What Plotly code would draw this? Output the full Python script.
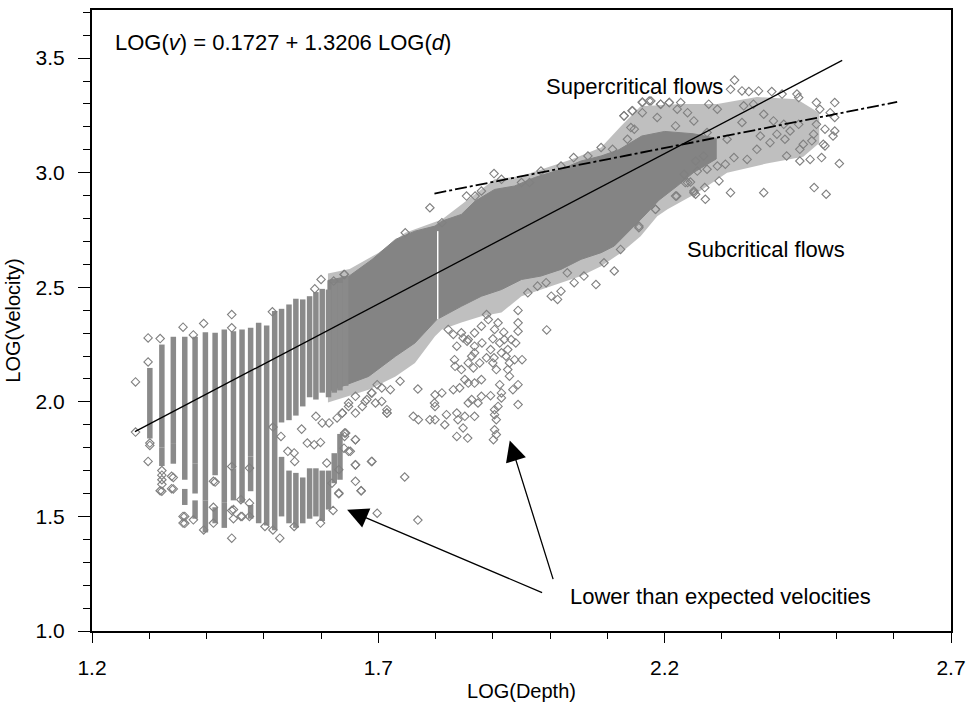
import plotly.graph_objects as go

# ---------------- data ----------------
x_tick_vals = [1.2, 1.7, 2.2, 2.7]
x_tick_text = ["1.2", "1.7", "2.2", "2.7"]
y_tick_vals = [1.0, 1.5, 2.0, 2.5, 3.0, 3.5]
y_tick_text = ["1.0", "1.5", "2.0", "2.5", "3.0", "3.5"]

# vertical stripes of points (discrete depths) : x, bottom, top
col_x = [1.301, 1.322, 1.342, 1.362, 1.380, 1.398, 1.415, 1.431, 1.447, 1.462, 1.477, 1.491, 1.505,
         1.519, 1.531, 1.544, 1.556, 1.568, 1.580, 1.591, 1.602, 1.613, 1.623, 1.633, 1.643]
col_bot = [1.84, 1.80, 1.82, 1.66, 1.73, 1.57, 1.68, 1.56, 1.71, 1.69, 1.76, 1.47, 1.46,
           1.44, 1.91, 1.92, 1.94, 1.98, 2.02, 2.01, 2.04, 2.02, 2.04, 2.05, 2.07]
col_top = [2.148, 2.250, 2.284, 2.284, 2.284, 2.304, 2.301, 2.316, 2.308, 2.316, 2.323, 2.345, 2.333,
           2.396, 2.406, 2.425, 2.450, 2.447, 2.461, 2.479, 2.493, 2.490, 2.519, 2.519, 2.549]

# lower pieces of the stripes
low_x = [1.322, 1.342, 1.362, 1.380, 1.380, 1.398, 1.415, 1.431, 1.447, 1.462, 1.477, 1.477,
         1.531, 1.544, 1.556, 1.568, 1.580, 1.591, 1.602, 1.613, 1.623, 1.633]
low_bot = [1.72, 1.73, 1.55, 1.60, 1.49, 1.43, 1.47, 1.45, 1.57, 1.56, 1.61, 1.49,
           1.50, 1.47, 1.45, 1.47, 1.49, 1.50, 1.48, 1.53, 1.645, 1.66]
low_top = [1.80, 1.82, 1.62, 1.73, 1.57, 1.57, 1.54, 1.56, 1.71, 1.69, 1.76, 1.55,
           1.76, 1.70, 1.69, 1.67, 1.71, 1.71, 1.70, 1.70, 1.776, 1.86]

# dense core of the cloud (outline: upper edge left->right, lower edge right->left)
core_x = [1.612, 1.6485, 1.689, 1.730, 1.764, 1.799, 1.811, 1.845, 1.869, 1.903, 1.938, 1.973,
          2.019, 2.054, 2.089, 2.12, 2.16, 2.20, 2.25, 2.29,
          2.29, 2.25, 2.222, 2.19, 2.164, 2.135, 2.112, 2.089, 2.054, 2.019, 1.984, 1.950,
          1.915, 1.880, 1.845, 1.802, 1.764, 1.730, 1.683, 1.612]
core_y = [2.53, 2.548, 2.621, 2.709, 2.745, 2.767, 2.789, 2.818, 2.876, 2.927, 2.942, 2.979,
          3.015, 3.051, 3.073, 3.10, 3.16, 3.18, 3.17, 3.15,
          3.06, 3.00, 2.942, 2.88, 2.811, 2.738, 2.680, 2.651, 2.622, 2.578, 2.549, 2.534,
          2.490, 2.461, 2.417, 2.359, 2.257, 2.199, 2.111, 2.045]

# fuzzy fringe of overlapping points round the core
fringe_x = [1.612, 1.65, 1.70, 1.747, 1.811, 1.857, 1.903, 1.950, 1.984, 2.037, 2.089, 2.124, 2.158,
            2.228, 2.292, 2.361, 2.431, 2.47,
            2.47, 2.442, 2.378, 2.309, 2.257, 2.205, 2.187, 2.158, 2.124, 2.089, 2.054, 2.019, 1.984,
            1.950, 1.915, 1.880, 1.845, 1.811, 1.799, 1.764, 1.730, 1.683, 1.612]
fringe_y = [2.56, 2.58, 2.65, 2.738, 2.796, 2.884, 2.971, 2.986, 3.015, 3.058, 3.11, 3.204, 3.29,
            3.30, 3.30, 3.33, 3.32, 3.26,
            3.13, 3.07, 3.04, 3.00, 2.913, 2.84, 2.81, 2.723, 2.651, 2.592, 2.549, 2.52, 2.49,
            2.461, 2.39, 2.374, 2.346, 2.316, 2.286, 2.17, 2.111, 2.053, 1.997]

# white gap inside the cloud
gap_x = [1.8037, 1.8037]
gap_y = [2.36, 2.745]

# individual scattered points
pts_x = [1.276, 1.276, 1.298, 1.298, 1.319, 1.359, 1.395, 1.444, 1.444, 1.377, 1.600, 1.641, 1.622, 1.589, 1.515,
         1.301, 1.301, 1.298,
         1.660, 1.677, 1.688, 1.695, 1.706, 1.715, 1.648, 1.637, 1.628, 1.614, 1.602, 1.591, 1.576, 1.588,
         1.599, 1.641, 1.641, 1.660,
         1.444, 1.528, 1.688, 1.746, 1.698, 1.670, 1.631, 1.621, 1.660, 1.660, 1.651, 1.610, 1.553, 1.566,
         1.554, 1.542, 1.530, 1.516, 1.475, 1.475, 1.460, 1.444, 1.444, 1.412, 1.412, 1.395, 1.377, 1.359,
         1.359, 1.339, 1.319, 1.339, 1.412, 1.460, 1.475, 1.599, 1.553, 1.516, 1.502, 1.769,
         1.322, 1.322, 1.322, 1.322, 1.322, 1.342, 1.342, 1.362, 1.362, 1.415, 1.447, 1.447, 1.462,
         1.994, 1.944, 1.944, 1.944, 1.940, 1.951, 1.938, 1.944, 1.944, 1.935, 1.929, 1.926, 1.929, 1.923,
         1.926, 1.932, 1.920, 1.919, 1.909, 1.903, 1.900, 1.896, 1.912, 1.915, 1.902, 1.906, 1.912, 1.915,
         1.909, 1.903, 1.906, 1.903, 1.906, 1.901, 1.892, 1.889, 1.880, 1.868, 1.857, 1.845, 1.848, 1.837,
         1.833, 1.834, 1.845, 1.857, 1.863, 1.868, 1.877, 1.880, 1.868, 1.857, 1.851, 1.842, 1.831, 1.880,
         1.874, 1.863, 1.857, 1.868, 1.851, 1.837, 1.839, 1.819, 1.816, 1.799, 1.790, 1.770, 1.761, 1.799,
         1.811, 1.798, 1.799, 1.769, 1.738, 1.721, 1.706, 1.698, 1.689, 1.680, 1.672, 1.660, 1.648, 1.637,
         1.715, 1.715, 1.848, 1.837, 1.856, 1.903, 1.896, 1.915, 1.822, 1.831, 1.855, 1.868, 1.866, 1.881,
         1.889, 1.900,
         1.643, 1.660, 1.660, 1.689, 1.670, 1.631, 1.648, 1.640, 1.619, 1.631,
         2.019, 2.042, 2.059, 2.080, 2.013, 2.002, 2.030, 2.112, 2.094, 2.155, 2.123, 1.978, 1.961, 1.993,
         2.322, 2.315, 2.335, 2.347, 2.364, 2.387, 2.405, 2.431, 2.434, 2.465, 2.497, 2.471, 2.489, 2.497,
         2.465, 2.480, 2.497, 2.494, 2.477, 2.480, 2.457, 2.442, 2.436, 2.413, 2.436, 2.454, 2.474, 2.505,
         2.461, 2.482, 2.373, 2.315, 2.295, 2.271, 2.270, 2.254, 2.251, 2.240, 2.245, 2.221, 2.184, 2.155,
         2.361, 2.344, 2.321, 2.306, 2.292, 2.274, 2.257, 2.234, 2.254, 2.268, 2.410, 2.396, 2.419, 2.390,
         2.373, 2.355, 2.338, 2.292, 2.277, 2.251, 2.240, 2.222, 2.208, 2.193, 2.176, 2.161, 2.144, 2.129,
         2.141, 2.161, 2.187, 2.219, 2.274, 2.309, 2.335, 2.367, 2.384, 2.408, 2.434, 2.460,
         1.790, 1.811, 1.854, 1.869, 1.880, 1.902, 1.915, 1.950, 1.964, 1.984, 2.019, 2.041, 2.066, 2.089,
         2.109, 2.129, 2.143, 2.161, 2.173, 2.193, 2.208, 2.228, 2.147, 2.135, 2.219, 2.184, 2.236, 2.251,
         1.640, 1.747]
pts_y = [2.087, 1.868, 2.279, 2.174, 2.276, 2.326, 2.342, 2.381, 2.323, 2.292, 2.534, 2.556, 2.527, 2.493, 2.393,
         1.82, 1.81, 1.740,
         2.024, 2.002, 2.039, 1.995, 2.002, 1.951, 1.980, 1.951, 1.930, 1.908, 1.908, 1.937, 1.820, 1.813,
         1.823, 1.864, 1.849, 1.835,
         1.405, 1.405, 1.740, 1.672, 1.514, 1.612, 1.599, 1.526, 1.725, 1.653, 1.784, 1.733, 1.777, 1.881,
         1.740, 1.784, 1.849, 1.890, 1.711, 1.500, 1.500, 1.526, 1.718, 1.540, 1.471, 1.441, 1.485, 1.500,
         1.471, 1.621, 1.612, 1.675, 1.653, 1.573, 1.558, 1.471, 1.456, 1.441, 1.456, 1.484,
         1.70, 1.68, 1.66, 1.64, 1.61, 1.67, 1.62, 1.50, 1.47, 1.65, 1.53, 1.49, 1.50,
         2.314, 2.399, 2.345, 2.308, 2.257, 2.184, 2.184, 2.075, 1.988, 2.053, 2.112, 2.141, 2.170, 2.199,
         2.228, 2.272, 2.272, 2.304, 2.345, 2.316, 2.275, 2.228, 2.257, 2.214, 2.192, 2.141, 2.075, 2.039,
         1.980, 1.966, 1.922, 1.878, 1.857, 1.835, 2.359, 2.381, 2.330, 2.301, 2.272, 2.301, 2.279, 2.243,
         2.184, 2.155, 2.141, 2.170, 2.199, 2.214, 2.170, 2.097, 2.082, 2.082, 2.097, 2.061, 2.053, 2.024,
         1.995, 2.010, 1.995, 1.937, 1.937, 1.951, 1.922, 1.944, 1.900, 1.922, 1.922, 1.922, 1.937, 2.031,
         2.039, 1.995, 1.980, 2.056, 2.090, 2.053, 2.061, 2.075, 2.039, 2.010, 1.980, 1.951, 1.995, 1.951,
         1.966, 1.951, 1.886, 1.849, 1.842, 1.944, 2.027, 2.017, 2.316, 2.294, 2.265, 2.243, 2.148, 2.257,
         2.192, 2.170,
         1.864, 1.835, 1.725, 1.740, 1.612, 1.602, 1.784, 1.798, 1.645, 1.704,
         2.483, 2.520, 2.549, 2.512, 2.447, 2.461, 2.563, 2.571, 2.607, 2.760, 2.665, 2.505, 2.476, 2.520,
         3.404, 3.364, 3.357, 3.354, 3.357, 3.354, 3.343, 3.343, 3.328, 3.306, 3.306, 3.277, 3.262, 3.241,
         3.211, 3.190, 3.182, 3.160, 3.124, 3.117, 3.139, 3.124, 3.102, 3.073, 3.051, 3.058, 3.066, 3.040,
         2.935, 2.906, 2.913, 2.913, 2.964, 2.884, 2.935, 2.906, 2.920, 2.957, 2.959, 2.898, 2.840, 2.767,
         3.102, 3.058, 3.066, 3.037, 3.029, 3.015, 3.007, 2.993, 3.051, 3.073, 3.146, 3.168, 3.182, 3.226,
         3.255, 3.299, 3.292, 3.277, 3.299, 3.226, 3.262, 3.277, 3.306, 3.299, 3.313, 3.306, 3.270, 3.248,
         3.197, 3.262, 3.241, 3.204, 3.175, 3.146, 3.219, 3.160, 3.131, 3.211, 3.211, 3.168,
         2.847, 2.782, 2.898, 2.898, 2.920, 2.996, 2.971, 2.957, 2.957, 3.007, 3.029, 3.066, 3.073, 3.110,
         3.102, 3.248, 3.270, 3.309, 3.313, 3.299, 3.306, 3.306, 3.190, 3.146, 2.898, 2.840, 2.957, 2.913,
         2.556, 2.738]

# fitted line and the critical-flow boundary
fit_x = [1.275, 2.51]
fit_y = [1.87, 3.49]
crit_x = [1.798, 2.606]
crit_y = [2.909, 3.309]

# ---------------- figure ----------------
GRAY = "rgb(132,132,132)"
FONT = "Liberation Sans, Arial, Helvetica, sans-serif"

fig = go.Figure()

# fringe of the cloud
fig.add_trace(go.Scatter(x=fringe_x + [fringe_x[0]], y=fringe_y + [fringe_y[0]], mode="lines",
                         fill="toself", fillcolor="rgba(128,128,128,0.5)",
                         line=dict(width=0), hoverinfo="skip", showlegend=False))
# dense core
fig.add_trace(go.Scatter(x=core_x + [core_x[0]], y=core_y + [core_y[0]], mode="lines",
                         fill="toself", fillcolor=GRAY,
                         line=dict(width=1, color=GRAY), hoverinfo="skip", showlegend=False))

# stripes
sx, sy = [], []
for xv, lo, hi in zip(col_x, col_bot, col_top):
    sx += [xv, xv, None]
    sy += [lo, hi, None]
for xv, lo, hi in zip(low_x, low_bot, low_top):
    sx += [xv, xv, None]
    sy += [lo, hi, None]
fig.add_trace(go.Scatter(x=sx, y=sy, mode="lines", line=dict(color="rgb(138,138,138)", width=5.5),
                         hoverinfo="skip", showlegend=False))

# white gap
fig.add_trace(go.Scatter(x=gap_x, y=gap_y, mode="lines", line=dict(color="white", width=1.5),
                         hoverinfo="skip", showlegend=False))

# scattered points
fig.add_trace(go.Scatter(x=pts_x, y=pts_y, mode="markers",
                         marker=dict(symbol="diamond-open", size=6.5, color="rgb(128,128,128)",
                                     line=dict(width=1.1, color="rgb(128,128,128)")),
                         hoverinfo="skip", showlegend=False))

# lines
fig.add_trace(go.Scatter(x=fit_x, y=fit_y, mode="lines", line=dict(color="black", width=1.3),
                         showlegend=False))
fig.add_trace(go.Scatter(x=crit_x, y=crit_y, mode="lines",
                         line=dict(color="black", width=1.8, dash="12px,3px,3px,3px"),
                         showlegend=False))

ann_font = dict(family=FONT, size=22, color="black")
annotations = [
    dict(x=1.2365, y=3.570, xref="x", yref="y", text="LOG(<i>v</i>) = 0.1727 + 1.3206 LOG(<i>d</i>)",
         showarrow=False, xanchor="left", yanchor="middle", font=ann_font),
    dict(x=2.147, y=3.378, xref="x", yref="y", text="Supercritical flows",
         showarrow=False, xanchor="center", yanchor="middle", font=ann_font),
    dict(x=2.3768, y=2.665, xref="x", yref="y", text="Subcritical flows",
         showarrow=False, xanchor="center", yanchor="middle", font=ann_font),
    dict(x=2.031, y=1.152, xref="x", yref="y", text="Lower than expected velocities",
         showarrow=False, xanchor="left", yanchor="middle", font=ann_font),
    dict(x=1.6455, y=1.5288, xref="x", yref="y", ax=1.9886, ay=1.1648, axref="x", ayref="y",
         text="", showarrow=True, arrowhead=2, arrowsize=3.2, arrowwidth=1.3, arrowcolor="black"),
    dict(x=1.9295, y=1.8317, xref="x", yref="y", ax=2.006, ay=1.2198, axref="x", ayref="y",
         text="", showarrow=True, arrowhead=2, arrowsize=3.2, arrowwidth=1.3, arrowcolor="black"),
]

fig.update_layout(
    width=974, height=711,
    margin=dict(l=92, r=18, t=8, b=80),
    paper_bgcolor="white", plot_bgcolor="white",
    font=dict(family=FONT, color="black"),
    annotations=annotations,
    showlegend=False,
)
fig.update_xaxes(
    range=[1.2, 2.7], tickvals=x_tick_vals, ticktext=x_tick_text,
    showgrid=False, zeroline=False, showline=True, mirror=True, linecolor="black", linewidth=2,
    ticks="outside", ticklen=10, tickwidth=1, tickcolor="black", ticklabelstandoff=7,
    minor=dict(dtick=0.1, ticks="outside", ticklen=6, tickwidth=1, tickcolor="black", showgrid=False),
    tickfont=dict(family=FONT, size=21, color="black"),
    title=dict(text="LOG(Depth)", font=dict(family=FONT, size=20, color="black"), standoff=6),
)
fig.update_yaxes(
    range=[1.0, 3.71], tickvals=y_tick_vals, ticktext=y_tick_text,
    showgrid=False, zeroline=False, showline=True, mirror=True, linecolor="black", linewidth=2,
    ticks="outside", ticklen=12, tickwidth=1, tickcolor="black", ticklabelstandoff=9,
    minor=dict(dtick=0.1, ticks="outside", ticklen=7, tickwidth=1, tickcolor="black", showgrid=False),
    tickfont=dict(family=FONT, size=21, color="black"),
    title=dict(text="LOG(Velocity)", font=dict(family=FONT, size=20, color="black"), standoff=10),
)

fig.write_html("out.html")
